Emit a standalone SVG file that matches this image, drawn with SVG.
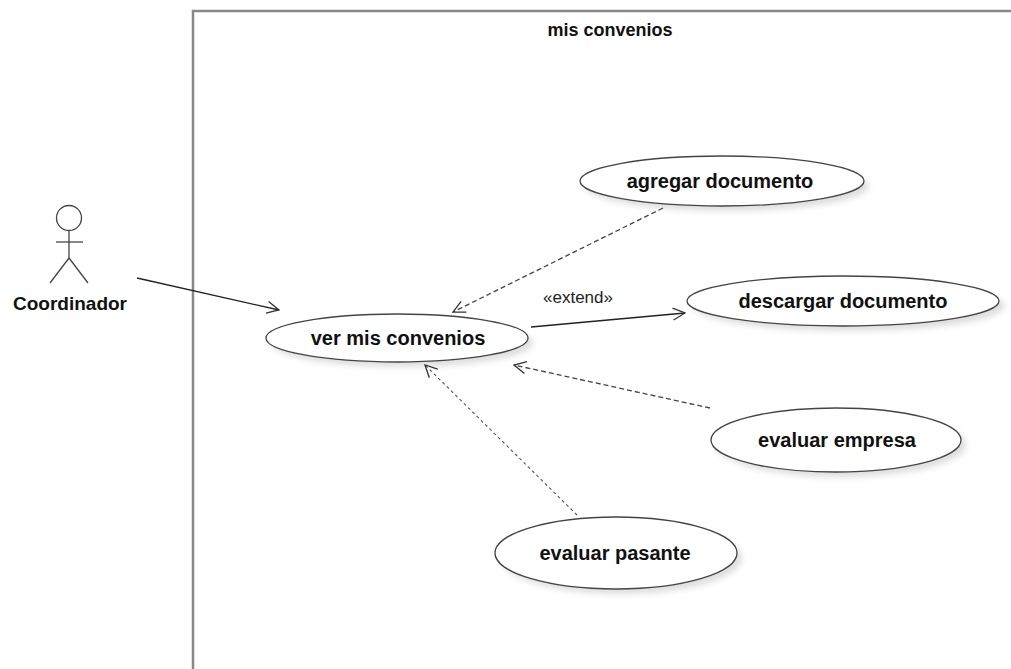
<svg xmlns="http://www.w3.org/2000/svg" width="1011" height="669" viewBox="0 0 1011 669">
<style>
.lbl{font-family:"Liberation Sans",Arial,sans-serif;font-weight:bold;font-size:20px;fill:#111;text-anchor:middle}
.uc{fill:#fff;stroke:#444;stroke-width:1.3}
.sh{fill:#000;opacity:0.13;filter:url(#blur)}
.ln{fill:none;stroke:#222;stroke-width:1.3}
.dash{fill:none;stroke:#444;stroke-width:1.3;stroke-dasharray:5 3}
.dash2{fill:none;stroke:#555;stroke-width:1.1;stroke-dasharray:3 3}
.act{fill:none;stroke:#444;stroke-width:1.3}
</style>
<defs>
<filter id="blur" x="-20%" y="-50%" width="140%" height="200%"><feGaussianBlur stdDeviation="3"/></filter>
<marker id="open" markerUnits="userSpaceOnUse" markerWidth="14" markerHeight="14" viewBox="0 0 14 14" refX="13" refY="7" orient="auto"><path d="M1,1 L13,7 L1,13" fill="none" stroke="#333" stroke-width="1.3"/></marker>
</defs>
<rect width="1011" height="669" fill="#fff"/>
<g id="frame">
<path d="M193,700 L193,11 L1020,11" fill="none" stroke="#888" stroke-width="2.5"/>
<text x="610" y="36" class="lbl" style="font-size:18px">mis convenios</text>
</g>
<g id="actor-coordinador">
<circle cx="69" cy="218" r="12.5" class="act"/>
<line x1="69" y1="230.5" x2="69" y2="258" class="act"/>
<line x1="56" y1="242" x2="83" y2="242" class="act"/>
<line x1="69" y1="258" x2="50" y2="283" class="act"/>
<line x1="69" y1="258" x2="88" y2="283" class="act"/>
<text x="70" y="310" class="lbl" style="font-size:19px">Coordinador</text>
</g>
<g id="uc-agregar">
<ellipse cx="727" cy="186" rx="142" ry="25" class="sh"/>
<ellipse cx="722" cy="181" rx="142" ry="25" class="uc"/>
<text x="720" y="188" class="lbl">agregar documento</text>
</g>
<g id="uc-descargar">
<ellipse cx="849" cy="306" rx="156" ry="25" class="sh"/>
<ellipse cx="843" cy="301" rx="156" ry="25" class="uc"/>
<text x="843" y="308" class="lbl">descargar documento</text>
</g>
<g id="uc-ver">
<ellipse cx="402" cy="343" rx="131" ry="24" class="sh"/>
<ellipse cx="397" cy="338" rx="131" ry="24" class="uc"/>
<text x="398" y="345" class="lbl">ver mis convenios</text>
</g>
<g id="uc-empresa">
<ellipse cx="841" cy="445" rx="125" ry="32" class="sh"/>
<ellipse cx="836" cy="440" rx="125" ry="32" class="uc"/>
<text x="837" y="447" class="lbl">evaluar empresa</text>
</g>
<g id="uc-pasante">
<ellipse cx="621" cy="558" rx="121" ry="36" class="sh"/>
<ellipse cx="616" cy="553" rx="121" ry="36" class="uc"/>
<text x="615" y="560" class="lbl">evaluar pasante</text>
</g>
<g id="connectors">
<line x1="137" y1="278" x2="279" y2="310" class="ln" marker-end="url(#open)"/>
<line x1="531" y1="327" x2="685" y2="313" class="ln" marker-end="url(#open)"/>
<text x="578" y="303" style="font-family:'Liberation Sans',Arial,sans-serif;font-size:17px;fill:#222;text-anchor:middle">«extend»</text>
<line x1="663" y1="208" x2="453" y2="312" class="dash" marker-end="url(#open)"/>
<line x1="710" y1="408" x2="514" y2="365" class="dash" marker-end="url(#open)"/>
<line x1="577" y1="515" x2="425" y2="365" class="dash2" marker-end="url(#open)"/>
</g>
</svg>
